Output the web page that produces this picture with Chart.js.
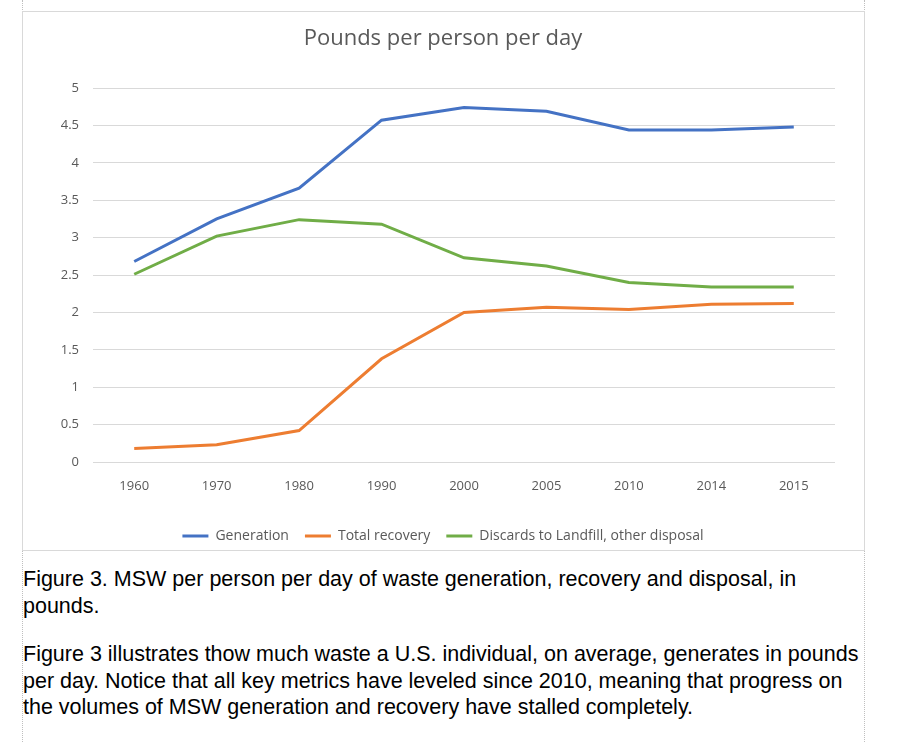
<!DOCTYPE html>
<html>
<head>
<meta charset="utf-8">
<script src="https://cdn.jsdelivr.net/npm/chart.js@4.4.1/dist/chart.umd.min.js"></script>
<style>
    html, body { margin: 0; padding: 0; background: #fff; }
    body { width: 900px; height: 742px; position: relative; overflow: hidden; }
    .page-edge { position: absolute; top: 0; bottom: 0; width: 0; border-left: 1px dotted #bfbfbf; }
    .chart-box { position: absolute; left: 22px; top: 11px; width: 841px; height: 538px; border: 1px solid #d9d9d9; background: #fff; }
    #wrap { position: absolute; left: 22px; top: 11px; width: 842px; height: 542px; }
    .para { position: absolute; left: 23px; font-family: "Liberation Sans", Arial, sans-serif; font-size: 21.5px; line-height: 26.5px; color: #000; white-space: nowrap; }
</style>
</head>
<body>
<div class="page-edge" style="left:22px"></div>
<div class="page-edge" style="left:864px"></div>
<div class="chart-box"></div>
<div id="wrap"><canvas id="wasteChart" width="842" height="542"></canvas></div>

<div class="para" style="top:566px">Figure 3. MSW per person per day of waste generation, recovery and disposal, in<br>pounds.</div>
<div class="para" style="top:641px">Figure 3 illustrates thow much waste a U.S. individual, on average, generates in pounds<br>per day. Notice that all key metrics have leveled since 2010, meaning that progress on<br>the volumes of MSW generation and recovery have stalled completely.</div>

<script>
// --- Data ---
const years = ['1960', '1970', '1980', '1990', '2000', '2005', '2010', '2014', '2015'];
const generation = [2.68, 3.25, 3.66, 4.57, 4.74, 4.69, 4.44, 4.44, 4.48];
const totalRecovery = [0.18, 0.23, 0.42, 1.38, 2.00, 2.07, 2.04, 2.11, 2.12];
const discards = [2.51, 3.02, 3.24, 3.18, 2.73, 2.62, 2.40, 2.34, 2.34];
const yTicks = [0, 0.5, 1, 1.5, 2, 2.5, 3, 3.5, 4, 4.5, 5];

const FONT = '"Open Sans", "Noto Sans", sans-serif';
const GREY_TEXT = '#595959';
const GRID = '#d9d9d9';

function lineSet(label, data, color) {
    return {
        label: label,
        data: data,
        borderColor: color,
        backgroundColor: color,
        borderWidth: 3,
        pointRadius: 0,
        pointHoverRadius: 0,
        tension: 0,
        fill: false,
        pointStyle: 'line'
    };
}

new Chart(document.getElementById('wasteChart'), {
    type: 'line',
    data: {
        labels: years,
        datasets: [
            lineSet('Generation', generation, '#4472C4'),
            lineSet('Total recovery', totalRecovery, '#ED7D31'),
            lineSet('Discards to Landfill, other disposal', discards, '#70AD47')
        ]
    },
    options: {
        responsive: false,
        animation: false,
        devicePixelRatio: 1,
        layout: { padding: 0 },
        plugins: {
            title: {
                display: true,
                text: 'Pounds per person per day',
                color: GREY_TEXT,
                font: { family: FONT, size: 22, weight: 'normal' },
                padding: { top: 15, bottom: 35.6 }
            },
            legend: {
                position: 'bottom',
                labels: {
                    usePointStyle: true,
                    pointStyleWidth: 26,
                    padding: 16,
                    color: GREY_TEXT,
                    font: { family: FONT, size: 14 }
                }
            },
            tooltip: { enabled: false }
        },
        scales: {
            x: {
                offset: true,
                grid: { display: false, drawTicks: false },
                border: { display: false },
                ticks: { color: GREY_TEXT, font: { family: FONT, size: 13 }, padding: 16, maxRotation: 0 },
                afterFit: scale => { scale.height = 51; }
            },
            y: {
                min: 0,
                max: 5,
                grid: { color: GRID, lineWidth: 1, drawTicks: false },
                border: { display: false },
                afterBuildTicks: scale => { scale.ticks = yTicks.map(v => ({ value: v })); },
                afterFit: scale => { scale.width = 71; },
                ticks: {
                    color: GREY_TEXT,
                    font: { family: FONT, size: 13 },
                    padding: 14,
                    callback: v => String(v)
                }
            },
            // empty right-hand gutter so the title and legend stay centred on the box
            gutter: {
                type: 'linear',
                position: 'right',
                grid: { display: false, drawTicks: false },
                border: { display: false },
                ticks: { display: false },
                afterFit: scale => { scale.width = 29; }
            }
        }
    }
});
</script>
</body>
</html>
